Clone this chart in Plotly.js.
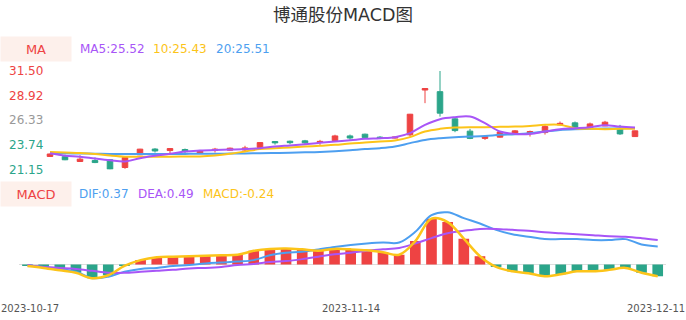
<!DOCTYPE html>
<html>
<head>
<meta charset="utf-8">
<script src="https://cdn.plot.ly/plotly-3.0.1.min.js"></script>
<style>html,body{margin:0;padding:0;background:#fff;}#chart{width:686px;height:320px;}</style>
</head>
<body>
<div id="chart"></div>
<script>
// ---- data ----
var dates = ["2023-10-17","2023-10-18","2023-10-19","2023-10-20","2023-10-23","2023-10-24","2023-10-25","2023-10-26","2023-10-27","2023-10-30",
             "2023-10-31","2023-11-01","2023-11-02","2023-11-03","2023-11-06","2023-11-07","2023-11-08","2023-11-09","2023-11-10","2023-11-13",
             "2023-11-14","2023-11-15","2023-11-16","2023-11-17","2023-11-20","2023-11-21","2023-11-22","2023-11-23","2023-11-24","2023-11-27",
             "2023-11-28","2023-11-29","2023-11-30","2023-12-01","2023-12-04","2023-12-05","2023-12-06","2023-12-07","2023-12-08","2023-12-11"];
var openP  = [22.52,22.50,21.99,22.09,22.17,21.36,22.69,23.30,23.14,23.25, 22.85,23.14,23.18,23.20,23.46,24.09,24.12,24.16,24.00,24.19,
              24.68,24.86,24.55,24.45,24.79,29.50,29.33,26.47,25.18,24.42, 24.55,24.97,24.97,25.03,25.84,26.05,25.52,25.73,25.42,24.61];
var highP  = [22.82,22.72,22.65,22.41,22.20,22.48,23.32,23.39,23.38,23.35, 23.20,23.42,23.45,23.64,24.02,24.12,24.19,24.26,24.26,24.80,
              24.82,24.92,24.65,24.60,26.99,29.70,31.50,26.65,25.42,24.62, 25.18,25.30,25.24,25.81,26.19,26.19,26.08,26.26,25.84,25.24];
var lowP   = [22.50,22.13,21.98,21.82,21.15,21.22,22.66,22.93,22.80,22.85, 22.80,22.93,23.15,23.00,23.44,23.76,23.80,23.84,23.74,24.15,
              24.26,24.42,24.34,24.40,24.61,28.12,26.71,25.07,24.34,24.26, 24.50,24.95,24.61,24.82,25.80,25.49,25.39,25.70,24.79,24.60];
var closeP = [22.78,22.17,22.24,21.88,21.19,22.41,23.29,23.10,23.35,23.02, 23.12,23.29,23.39,23.42,23.98,23.95,23.97,23.95,24.10,24.68,
              24.46,24.50,24.42,24.55,26.96,29.66,27.07,25.24,24.42,24.60, 25.10,25.21,25.14,25.66,26.00,25.56,25.94,26.12,24.89,25.21];
var ma5  = [22.85,22.60,22.50,22.30,22.12,21.99,22.34,22.59,22.80,23.04, 23.14,23.20,23.24,23.30,23.39,23.56,23.68,23.81,23.95,24.09,
            24.22,24.37,24.44,24.55,24.97,25.84,26.44,26.65,26.71,26.02, 25.14,24.89,24.89,25.14,25.39,25.49,25.60,25.81,25.66,25.56];
var ma10 = [23.00,22.93,22.88,22.78,22.62,22.50,22.48,22.50,22.50,22.51, 22.52,22.62,22.80,23.04,23.29,23.39,23.47,23.56,23.65,23.74,
            23.88,23.98,24.09,24.19,24.55,25.14,25.42,25.56,25.60,25.60, 25.63,25.66,25.73,25.84,25.84,25.49,25.42,25.39,25.42,25.43];
var ma20 = [22.87,22.85,22.83,22.81,22.79,22.78,22.78,22.78,22.78,22.79, 22.80,22.80,22.82,22.84,22.87,22.89,22.91,22.95,23.00,23.08,
            23.18,23.30,23.39,23.56,23.92,24.26,24.44,24.55,24.61,24.68, 24.79,24.86,24.97,25.14,25.31,25.39,25.42,25.45,25.49,25.51];
var dif  = [-0.02,-0.05,-0.09,-0.15,-0.28,-0.25,-0.15,-0.09,-0.07,-0.03, -0.01,0.02,0.04,0.06,0.09,0.19,0.24,0.26,0.31,0.36,
            0.40,0.43,0.45,0.45,0.67,1.01,1.07,0.95,0.84,0.71, 0.62,0.57,0.52,0.52,0.52,0.50,0.50,0.52,0.41,0.37];
var dea  = [-0.01,-0.05,-0.07,-0.09,-0.13,-0.17,-0.17,-0.15,-0.13,-0.11, -0.08,-0.07,-0.05,-0.01,0.01,0.05,0.07,0.11,0.16,0.21,
            0.24,0.28,0.31,0.34,0.43,0.54,0.64,0.69,0.73,0.73, 0.71,0.69,0.66,0.64,0.62,0.60,0.58,0.57,0.54,0.50];
var macd = [-0.03,-0.07,-0.12,-0.17,-0.28,-0.22,-0.03,0.09,0.15,0.16, 0.17,0.18,0.19,0.20,0.28,0.32,0.33,0.31,0.28,0.32,
            0.31,0.29,0.25,0.20,0.48,0.94,0.87,0.53,0.17,-0.05, -0.14,-0.18,-0.24,-0.20,-0.14,-0.14,-0.11,-0.07,-0.17,-0.24];
var priceTicks = [21.15, 23.74, 26.33, 28.92, 31.50];
var priceTickLabels = ["21.15", "23.74", "26.33", "28.92", "31.50"];
var dateTickIdx = [0, 20, 39];
var maLegend = ["MA5:25.52", "10:25.43", "20:25.51"];
var macdLegend = ["DIF:0.37", "DEA:0.49", "MACD:-0.24"];

// ---- style ----
var RED = '#ee4343', GREEN = '#2ba58a', GRAY = '#999999';
var PURPLE = '#a855f7', YELLOW = '#fcc419', BLUE = '#4d9ff0';
var FONT = 'DejaVu Sans, Noto Sans CJK SC, sans-serif';
var tickColors = [GREEN, GREEN, GRAY, RED, RED];

var traces = [
  {type:'candlestick', x:dates, open:openP, high:highP, low:lowP, close:closeP, xaxis:'x', yaxis:'y',
   increasing:{line:{color:RED, width:1}, fillcolor:RED},
   decreasing:{line:{color:GREEN, width:1}, fillcolor:GREEN},
   whiskerwidth:0, hoverinfo:'skip'},
  {type:'scatter', mode:'lines', x:dates, y:ma20, xaxis:'x', yaxis:'y', line:{color:BLUE, width:2, shape:'spline'}, hoverinfo:'skip'},
  {type:'scatter', mode:'lines', x:dates, y:ma10, xaxis:'x', yaxis:'y', line:{color:YELLOW, width:2, shape:'spline'}, hoverinfo:'skip'},
  {type:'scatter', mode:'lines', x:dates, y:ma5, xaxis:'x', yaxis:'y', line:{color:PURPLE, width:2, shape:'spline'}, hoverinfo:'skip'},
  {type:'bar', x:dates, y:macd, xaxis:'x2', yaxis:'y2', width:0.66,
   marker:{color:macd.map(function(v){return v >= 0 ? RED : GREEN;}), line:{width:0}}, hoverinfo:'skip'},
  {type:'scatter', mode:'lines', x:dates, y:dif, xaxis:'x2', yaxis:'y2', line:{color:BLUE, width:2, shape:'spline'}, hoverinfo:'skip'},
  {type:'scatter', mode:'lines', x:dates, y:dea, xaxis:'x2', yaxis:'y2', line:{color:PURPLE, width:2, shape:'spline'}, hoverinfo:'skip'},
  {type:'scatter', mode:'lines', x:dates, y:macd, xaxis:'x2', yaxis:'y2', line:{color:YELLOW, width:2.5, shape:'spline'}, hoverinfo:'skip'}
];

var W = 686, H = 320;
function py(p){ return 1 - p / H; }
function px(p){ return p / W; }

var annotations = [];
function boxLabel(text, yc){
  annotations.push({text:text, xref:'paper', yref:'paper', x:0, y:py(yc), xanchor:'left', yanchor:'middle',
    showarrow:false, width:70, height:24, borderpad:0, bgcolor:'#fdf0eb', font:{family:FONT, size:13, color:RED}});
}
function legText(text, x, yc, color){
  annotations.push({text:text, xref:'paper', yref:'paper', x:px(x), y:py(yc), xanchor:'left', yanchor:'middle',
    showarrow:false, borderpad:0, font:{family:FONT, size:12, color:color}});
}
boxLabel('MA', 48.7);
legText(maLegend[0], 79, 48.7, PURPLE);
legText(maLegend[1], 152, 48.7, YELLOW);
legText(maLegend[2], 215, 48.7, BLUE);
boxLabel('MACD', 193.7);
legText(macdLegend[0], 78, 193.7, BLUE);
legText(macdLegend[1], 137, 193.7, PURPLE);
legText(macdLegend[2], 202, 193.7, YELLOW);
// price axis labels (coloured), placed on the price axis scale
priceTicks.forEach(function(v, i){
  annotations.push({text:priceTickLabels[i], xref:'paper', yref:'y', x:px(7.5), y:v, xanchor:'left', yanchor:'middle',
    showarrow:false, borderpad:0, font:{family:FONT, size:12, color:tickColors[i]}});
});
// date labels: first flush left, middle centred on its bar, last flush right
dateTickIdx.forEach(function(idx, k){
  var a = {text:dates[idx], yref:'paper', y:py(308), yanchor:'middle', showarrow:false, borderpad:0,
           font:{family:FONT, size:10, color:'#555'}};
  if(k === 0){ a.xref = 'paper'; a.x = 0; a.xanchor = 'left'; }
  else if(k === dateTickIdx.length - 1){ a.xref = 'paper'; a.x = 1; a.xanchor = 'right'; }
  else { a.xref = 'x2'; a.x = idx; a.xanchor = 'center'; }
  annotations.push(a);
});

var layout = {
  width:W, height:H, margin:{l:0, r:0, t:0, b:0}, paper_bgcolor:'#fff', plot_bgcolor:'#fff',
  showlegend:false, boxgap:0.47,
  font:{family:FONT},
  title:{text:'博通股份MACD图', x:0.5, xanchor:'center', y:py(15), yanchor:'middle', font:{family:FONT, size:17.5, color:'#333'}},
  xaxis:{domain:[px(42.5), px(642.5)], range:[-0.5, 39.5], type:'category', anchor:'y',
         showticklabels:false, showgrid:false, zeroline:false, showline:false, ticks:'', rangeslider:{visible:false}, fixedrange:true},
  yaxis:{domain:[py(169.5), py(71)], range:[21.15, 31.5], anchor:'x', showgrid:false, zeroline:false, showline:false, ticks:'',
         showticklabels:false, fixedrange:true},
  xaxis2:{domain:[px(19.4), px(665.8)], range:[-0.5, 39.5], type:'category', anchor:'y2',
          showgrid:false, zeroline:false, showline:false, ticks:'', showticklabels:false, fixedrange:true},
  yaxis2:{domain:[py(296), py(200)], range:[-0.6455, 1.3217], anchor:'x2', showgrid:false, showticklabels:false, ticks:'',
          zeroline:true, zerolinecolor:'#dddddd', zerolinewidth:1, showline:false, fixedrange:true},
  annotations:annotations
};

Plotly.newPlot('chart', traces, layout, {displayModeBar:false, staticPlot:true});
</script>
</body>
</html>
